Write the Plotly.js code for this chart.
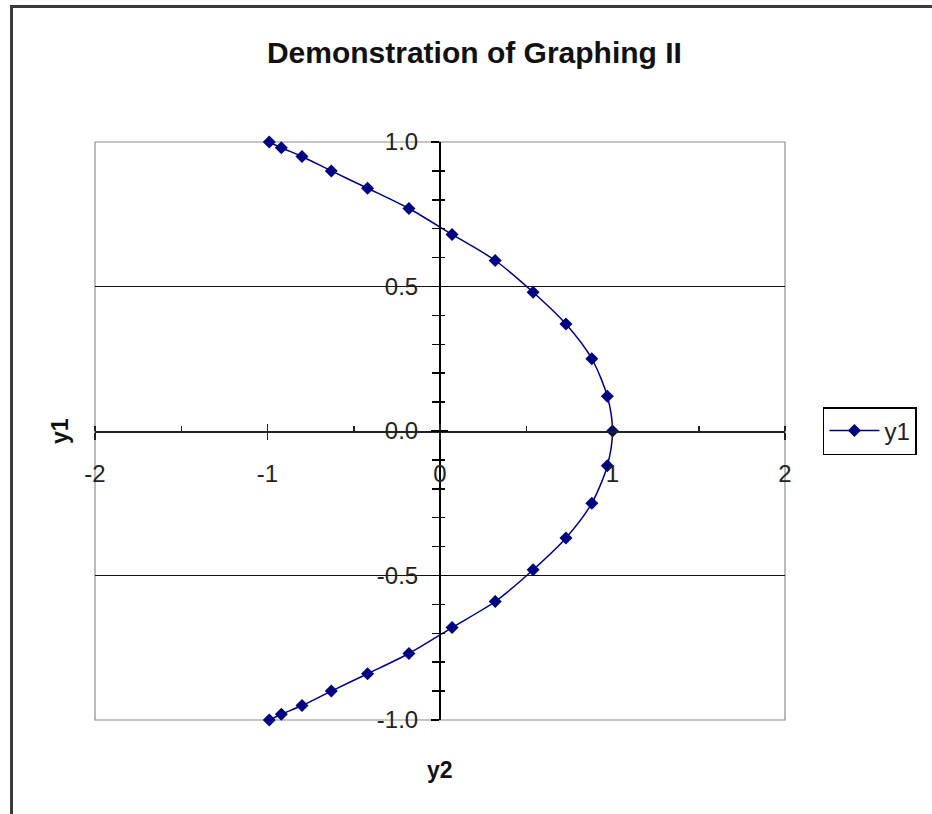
<!DOCTYPE html>
<html>
<head>
<meta charset="utf-8">
<script src="https://cdn.plot.ly/plotly-3.0.1.min.js"></script>
<style>
  html, body { margin: 0; padding: 0; background: #fff; }
  #frame { position: absolute; left: 10px; top: 5px; width: 940px; height: 830px;
           border-left: 3px solid #3a3a3a; border-top: 3px solid #3a3a3a; pointer-events: none; z-index: 5; }
  #chart { width: 932px; height: 814px; }
</style>
</head>
<body>
<div id="frame"></div>
<div id="chart"></div>
<script>
// values (series "y1": y1 plotted against y2)
const y2Values = [-0.99, -0.92, -0.80, -0.63, -0.42, -0.18, 0.07, 0.32, 0.54, 0.73, 0.88, 0.97, 1.00,
                  0.97, 0.88, 0.73, 0.54, 0.32, 0.07, -0.18, -0.42, -0.63, -0.80, -0.92, -0.99];
const y1Values = [1.00, 0.98, 0.95, 0.90, 0.84, 0.77, 0.68, 0.59, 0.48, 0.37, 0.25, 0.12, 0.00,
                  -0.12, -0.25, -0.37, -0.48, -0.59, -0.68, -0.77, -0.84, -0.90, -0.95, -0.98, -1.00];
const seriesName = 'y1';
const chartTitle = 'Demonstration of Graphing II';
const xTitle = 'y2';
const yTitle = 'y1';
const xTickVals = [-2, -1, 0, 1, 2];
const xTickText = ['-2', '-1', '0', '1', '2'];
const yTickVals = [-1, -0.5, 0, 0.5, 1];
const yTickText = ['-1.0', '-0.5', '0.0', '0.5', '1.0'];
const xRange = [-2, 2];
const yRange = [-1, 1];

const navy = '#000080';
const ink = '#222';
const font = 'Liberation Sans, Arial, sans-serif';

const traces = [
  {
    type: 'scatter', mode: 'lines+markers', name: seriesName,
    x: y2Values, y: y1Values, cliponaxis: false,
    line: { color: navy, width: 1.5, shape: 'spline', smoothing: 0.8 },
    marker: { symbol: 'diamond', size: 10, color: navy },
    xaxis: 'x', yaxis: 'y'
  },
  { type: 'scatter', mode: 'markers', x: [], y: [], xaxis: 'x2', yaxis: 'y2', showlegend: false, hoverinfo: 'skip' }
];

const layout = {
  width: 932, height: 814,
  margin: { l: 95, r: 147, t: 142, b: 94 },
  paper_bgcolor: '#fff', plot_bgcolor: '#fff',
  font: { family: font, color: ink },
  title: { text: chartTitle, font: { family: font, size: 30, color: '#111', weight: 'bold' },
           x: 0.509, xref: 'container', xanchor: 'center', y: 0.935, yref: 'container', yanchor: 'middle' },
  showlegend: true,
  legend: { x: 1.055, xanchor: 'left', y: 0.5, yanchor: 'middle', bordercolor: '#000', borderwidth: 1.5,
            bgcolor: '#fff', itemwidth: 50, font: { family: font, size: 24, color: ink } },
  xaxis: {
    range: xRange, domain: [0, 1], anchor: 'free', position: 0.5,
    showline: true, linecolor: ink, linewidth: 1.5, zeroline: false, showgrid: false,
    ticks: 'outside', ticklen: 7, tickwidth: 1.5, tickcolor: ink,
    tickmode: 'array', tickvals: xTickVals, ticktext: xTickText,
    minor: { dtick: 0.5, tick0: 0, ticks: 'inside', ticklen: 5, tickwidth: 1.5, tickcolor: ink, showgrid: false },
    ticklabelstandoff: 14, tickfont: { family: font, size: 24, color: ink }, fixedrange: true
  },
  yaxis: {
    range: yRange, domain: [0, 1], anchor: 'free', position: 0.5,
    showline: true, linecolor: '#000', linewidth: 2, zeroline: false,
    showgrid: true, gridcolor: '#111', gridwidth: 1,
    ticks: 'outside', ticklen: 8, tickwidth: 1.5, tickcolor: '#000',
    tickmode: 'array', tickvals: yTickVals, ticktext: yTickText,
    minor: { dtick: 0.1, tick0: 0, ticks: 'outside', ticklen: 7, tickwidth: 1.5, tickcolor: '#000', showgrid: false },
    ticklabelstandoff: 8, tickfont: { family: font, size: 24, color: ink }, fixedrange: true
  },
  xaxis2: {
    range: xRange, overlaying: 'x', anchor: 'free', position: 0.5,
    showline: false, zeroline: false, showgrid: false, showticklabels: false,
    ticks: 'inside', ticklen: 7, tickwidth: 1.5, tickcolor: ink, tickmode: 'array', tickvals: xTickVals, fixedrange: true
  },
  yaxis2: {
    range: yRange, overlaying: 'y', anchor: 'free', position: 0.5,
    showline: false, zeroline: false, showgrid: false, showticklabels: false,
    ticks: 'inside', ticklen: 7, tickwidth: 1.5, tickcolor: '#000', tickmode: 'array', tickvals: yTickVals,
    minor: { dtick: 0.1, tick0: 0, ticks: 'inside', ticklen: 4, tickwidth: 1.5, tickcolor: '#000', showgrid: false },
    fixedrange: true
  },
  shapes: [
    { type: 'rect', xref: 'paper', yref: 'paper', x0: 0, x1: 1, y0: 0, y1: 1,
      line: { color: '#8c8c8c', width: 1.2 }, fillcolor: 'rgba(0,0,0,0)', layer: 'between' }
  ],
  annotations: [
    { text: xTitle, xref: 'paper', yref: 'paper', x: 0.5, y: -0.0865, xanchor: 'center', yanchor: 'middle',
      showarrow: false, font: { family: font, size: 23, color: '#111', weight: 'bold' } },
    { text: yTitle, xref: 'paper', yref: 'paper', x: -0.0507, y: 0.5, xanchor: 'center', yanchor: 'middle',
      textangle: -90, showarrow: false, font: { family: font, size: 23, color: '#111', weight: 'bold' } }
  ]
};

Plotly.newPlot('chart', traces, layout, { displayModeBar: false, staticPlot: true });
</script>
</body>
</html>
